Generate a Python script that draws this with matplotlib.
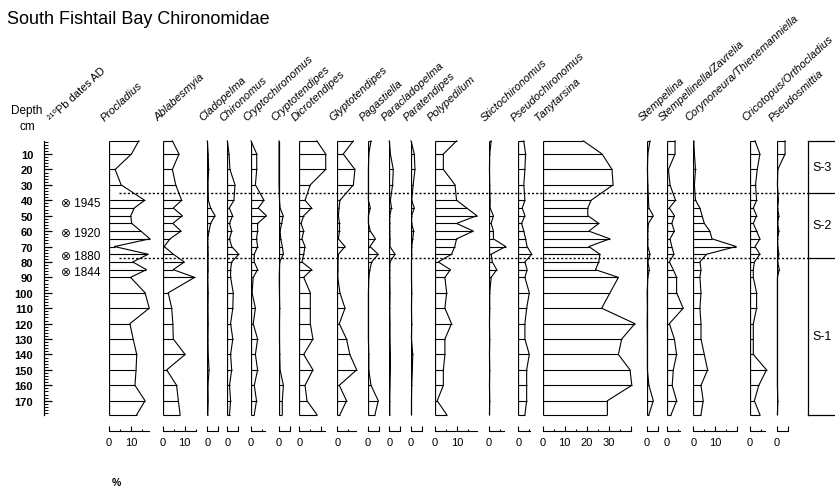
import matplotlib
matplotlib.use("Agg")
import matplotlib.pyplot as plt
import matplotlib.transforms as mtransforms

plt.rcParams["font.family"] = ["Liberation Sans", "DejaVu Sans"]

# sample depths (cm) and percentage abundance of each taxon
depths = [1.5, 10, 20, 30, 40, 45, 50, 55, 60, 65, 70, 75, 80, 85, 90,
          100, 110, 120, 130, 140, 150, 160, 170, 179]

procladius = [13.5, 10.2, 2.8, 5.5, 16.2, 11.5, 9.9, 10.3, 14.5, 18.6, 2.5, 17.8,
              10.8, 17.0, 9.8, 16.4, 18.3, 9.5, 11.0, 12.6, 12.3, 11.8, 16.4, 12.6]
ablabesmyia = [4.5, 7.5, 4.5, 6.0, 8.7, 4.9, 9.0, 4.7, 8.4, 3.4, 0.8, 4.9,
               9.9, 4.9, 14.6, 2.6, 4.2, 4.7, 4.9, 10.3, 1.9, 6.4, 7.2, 8.0]
cladopelma = [0.0, 0.4, 0.6, 0.3, 0.5, 1.5, 3.5, 1.5, 0.8, 0.2, 0.3, 0.4,
              0.3, 0.4, 0.2, 0.4, 0.3, 0.4, 0.3, 0.4, 0.8, 0.3, 0.4, 0.2]
chironomus = [0.0, 0.8, 1.2, 3.5, 3.0, 0.9, 2.4, 1.0, 2.0, 1.0, 2.0, 5.2,
              2.0, 1.5, 1.5, 2.7, 2.5, 1.5, 2.5, 1.5, 2.0, 1.0, 1.5, 1.0]
cryptochironomus = [0.0, 2.6, 2.6, 2.0, 5.9, 3.3, 7.0, 3.0, 3.0, 2.5, 3.0, 1.5,
                    1.5, 3.0, 1.0, 0.5, 2.0, 1.0, 3.0, 2.0, 3.0, 1.5, 2.5, 1.5]
cryptotendipes = [0.0, 0.0, 0.0, 0.0, 0.2, 0.5, 1.9, 1.2, 0.5, 0.8, 1.5, 2.0,
                  0.3, 0.2, 0.1, 0.2, 0.3, 0.2, 0.2, 0.3, 0.5, 2.0, 1.5, 1.5]
dicrotendipes = [8.0, 12.0, 12.0, 5.0, 2.6, 5.6, 2.0, 0.8, 2.0, 1.2, 2.6, 2.0,
                 1.2, 5.6, 2.0, 5.0, 5.0, 5.0, 6.2, 2.0, 6.2, 2.6, 3.5, 8.0]
glyptotendipes = [7.3, 2.7, 8.0, 7.3, 1.2, 0.8, 0.5, 1.0, 1.0, 0.5, 3.5, 0.5,
                  0.3, 0.3, 0.2, 1.2, 3.5, 0.9, 4.2, 5.7, 8.8, 0.9, 4.2, 1.2]
pagastiella = [1.5, 0.5, 0.3, 0.3, 0.3, 1.2, 0.3, 0.3, 1.2, 3.5, 1.0, 4.8,
               1.8, 1.0, 0.5, 0.3, 0.3, 0.3, 0.3, 0.5, 0.5, 1.5, 4.8, 3.3]
paracladopelma = [0.0, 0.5, 1.8, 1.5, 0.5, 1.0, 0.2, 0.2, 0.2, 0.3, 0.3, 2.6,
                  0.3, 0.2, 0.2, 0.3, 0.2, 0.3, 0.3, 0.5, 0.5, 0.3, 0.2, 0.2]
paratendipes = [0.0, 1.5, 1.8, 1.0, 0.3, 1.5, 0.3, 0.3, 1.2, 0.8, 0.3, 0.3,
                0.2, 0.2, 0.2, 0.3, 0.2, 0.3, 0.2, 0.8, 0.6, 0.3, 0.2, 0.2]
polypedilum = [9.8, 3.8, 3.8, 9.1, 9.8, 14.4, 19.0, 9.8, 17.4, 9.8, 9.0, 7.5,
               1.5, 7.0, 4.5, 5.3, 4.5, 7.5, 4.5, 4.5, 3.8, 3.8, 1.0, 5.3]
stictochironomus = [1.0, 0.3, 0.2, 0.3, 0.5, 0.5, 2.0, 1.0, 2.0, 2.0, 7.6, 1.0,
                    1.5, 3.5, 1.0, 0.3, 0.3, 0.2, 0.3, 0.2, 0.3, 0.2, 0.3, 0.2]
pseudochironomus = [2.5, 3.3, 3.0, 2.5, 3.0, 1.8, 3.0, 1.5, 2.5, 3.3, 4.0, 6.1,
                    3.0, 4.0, 3.0, 5.0, 3.8, 3.0, 3.0, 5.0, 3.8, 3.8, 3.8, 3.0]
tanytarsina = [18.5, 27.0, 31.5, 32.0, 22.0, 20.5, 20.5, 25.5, 21.0, 30.5, 21.0, 26.0,
               25.5, 24.0, 34.4, 30.6, 26.8, 41.9, 35.9, 34.4, 39.7, 40.5, 29.4, 29.4]
stempellina = [1.5, 0.5, 0.3, 0.5, 0.8, 1.0, 3.0, 0.8, 0.5, 0.5, 0.5, 1.5,
               0.5, 1.2, 0.5, 0.2, 0.3, 0.2, 0.3, 0.3, 0.3, 1.0, 3.0, 1.0]
stempellinella = [3.8, 3.8, 0.8, 1.5, 4.0, 1.2, 3.5, 2.3, 3.5, 1.5, 2.3, 3.3,
                  1.2, 3.0, 4.5, 4.5, 7.5, 1.2, 3.5, 4.5, 3.0, 2.5, 4.5, 2.0]
corynoneura = [0.2, 0.5, 1.0, 0.5, 1.0, 3.0, 4.0, 5.0, 7.5, 8.5, 19.5, 6.0,
               3.0, 3.5, 3.0, 3.5, 3.0, 3.5, 3.5, 5.0, 6.5, 3.5, 4.5, 3.5]
cricotopus = [2.3, 4.5, 3.3, 2.5, 3.0, 1.5, 3.0, 1.5, 3.0, 4.5, 2.3, 4.5,
              2.0, 1.5, 1.5, 3.0, 3.0, 1.5, 1.5, 1.5, 7.5, 4.0, 2.0, 4.5]
pseudosmittia = [3.8, 3.8, 0.5, 0.3, 0.8, 0.4, 1.0, 0.4, 1.0, 0.4, 0.5, 1.0,
                 0.4, 1.2, 0.3, 0.3, 0.3, 0.3, 0.3, 0.3, 0.3, 0.3, 0.5, 0.3]

taxa = ["Procladius", "Ablabesmyia", "Cladopelma", "Chironomus", "Cryptochironomus",
        "Cryptotendipes", "Dicrotendipes", "Glyptotendipes", "Pagastiella",
        "Paracladopelma", "Paratendipes", "Polypedilum", "Stictochironomus",
        "Pseudochironomus", "Tanytarsina", "Stempellina", "Stempellinella/Zavrelia",
        "Corynoneura/Thienemanniella", "Cricotopus/Orthocladius", "Pseudosmittia"]
series = [procladius, ablabesmyia, cladopelma, chironomus, cryptochironomus,
          cryptotendipes, dicrotendipes, glyptotendipes, pagastiella,
          paracladopelma, paratendipes, polypedilum, stictochironomus,
          pseudochironomus, tanytarsina, stempellina, stempellinella,
          corynoneura, cricotopus, pseudosmittia]
# length of each % scale bar
scale_max = [18, 15, 5, 5, 6.5, 5, 11.5, 8.5, 5, 5, 5, 19, 7, 5.5, 40, 5, 6, 20, 7, 5]

date_depths = [42, 61, 76, 86.5]
date_years = [1945, 1920, 1880, 1844]

zone_bounds = [35, 77.5]
zone_names = ["S-3", "S-2", "S-1"]

# page layout in pixels
W, H = 835, 489
TOP_Y = 139.6          # y pixel of 0 cm
PX_CM = 1.542          # pixels per cm of depth
PX_PCT = 2.2           # pixels per percent
AXIS_Y = 432           # y pixel of the % scale bars
col_x = [109, 162.5, 207.3, 227.3, 251, 279, 299.3, 337.3, 367.7, 389.3, 411,
         435, 489, 518.3, 542.7, 646.7, 666.7, 693.3, 750, 776.7]

fig = plt.figure(figsize=(W / 100, H / 100), dpi=100)


def px_axes(x0, y0, x1, y1):
    ax = fig.add_axes([x0 / W, 1 - y1 / H, (x1 - x0) / W, (y1 - y0) / H])
    ax.patch.set_visible(False)
    return ax


def fig_text(x, y, s, **kw):
    return fig.text(x / W, 1 - y / H, s, **kw)


depth_bottom = (AXIS_Y - TOP_Y) / PX_CM
d_top, d_bot = depths[0], depths[-1]

fig_text(7, 24, "South Fishtail Bay Chironomidae", fontsize=13, va="baseline")

# depth ruler
ax_d = px_axes(44.3, TOP_Y, 46, AXIS_Y)
ax_d.set_ylim(depth_bottom, 0)
ax_d.set_xticks([])
for s in ["top", "right", "bottom"]:
    ax_d.spines[s].set_visible(False)
ax_d.spines["left"].set_bounds(d_top, d_bot)
ax_d.spines["left"].set_linewidth(0.9)
ax_d.set_yticks(range(10, 171, 10))
ax_d.set_yticks(range(2, 179, 2), minor=True)
ax_d.tick_params(axis="y", which="major", direction="in", length=6, width=0.9,
                 labelsize=8, pad=8)
ax_d.tick_params(axis="y", which="minor", direction="in", length=2.8, width=0.7)
for lab in ax_d.get_yticklabels():
    lab.set_fontweight("bold")
fig_text(27, 111, "Depth", fontsize=8.5, ha="center", va="center")
fig_text(27, 126.5, "cm", fontsize=8.5, ha="center", va="center")

# 210Pb dates
ax_pb = px_axes(60, TOP_Y, 110, AXIS_Y)
ax_pb.set_ylim(depth_bottom, 0)
ax_pb.set_xlim(0, 1)
ax_pb.axis("off")
for d, yr in zip(date_depths, date_years):
    ax_pb.text(0.02, d, f"\u2297 {yr}", fontsize=8.5, va="center", ha="left")
fig_text(52, 122, "\u00b2\u00b9\u2070Pb dates AD", fontsize=8, rotation=43,
         rotation_mode="anchor", ha="left", va="baseline")

# one axes per taxon
for name, vals, x0, smax in zip(taxa, series, col_x, scale_max):
    ax = px_axes(x0, TOP_Y, x0 + smax * PX_PCT, AXIS_Y)
    ax.set_xlim(0, smax)
    ax.set_ylim(depth_bottom, 0)
    ax.plot(vals, depths, color="k", lw=0.8, clip_on=False)
    ax.hlines(depths, 0, vals, colors="k", lw=0.8, clip_on=False)
    ax.vlines(0, d_top, d_bot, colors="k", lw=0.9)
    for s in ["top", "right", "left"]:
        ax.spines[s].set_visible(False)
    ax.spines["bottom"].set_linewidth(0.8)
    ax.set_yticks([])
    major = [t for t in range(0, int(smax) + 1, 10)]
    if smax in (5, 20, 40) and smax not in major:
        major.append(smax)
    labels = [str(t) if t <= smax - 3 else "" for t in major]
    ax.set_xticks(major, labels=labels)
    ax.set_xticks([t for t in range(5, int(smax) + 1, 10) if t not in major], minor=True)
    ax.tick_params(axis="x", which="major", direction="in", length=3.8, width=0.8,
                   labelsize=8, pad=4)
    ax.tick_params(axis="x", which="minor", direction="in", length=1.8, width=0.8)
    fig_text(x0 - 4, 122, name, fontsize=8, style="italic", rotation=43,
             rotation_mode="anchor", ha="left", va="baseline")

fig_text(116.7, 483, "%", fontsize=7.5, ha="center", va="center", fontweight="bold")

# zone boundaries across the diagram
ax_l = px_axes(119, TOP_Y, 808, AXIS_Y)
ax_l.set_ylim(depth_bottom, 0)
ax_l.axis("off")
for b in zone_bounds:
    ax_l.axhline(b, color="k", lw=1.0, linestyle=(0, (1.5, 1.5)))

# zone box
ax_z = px_axes(808.3, TOP_Y + d_top * PX_CM, 880, TOP_Y + d_bot * PX_CM)
ax_z.set_ylim(d_bot, d_top)
ax_z.set_xlim(0, 1)
ax_z.set_xticks([])
ax_z.set_yticks([])
for s in ax_z.spines.values():
    s.set_linewidth(0.9)
for b in zone_bounds:
    ax_z.axhline(b, color="k", lw=0.9)
edges = [d_top] + zone_bounds + [d_bot]
trans = mtransforms.blended_transform_factory(ax_z.transAxes, ax_z.transData)
for name, a, b in zip(zone_names, edges[:-1], edges[1:]):
    ax_z.text(0.06, (a + b) / 2, name, transform=trans, fontsize=9, va="center")

fig.savefig("out.png", dpi=100)
